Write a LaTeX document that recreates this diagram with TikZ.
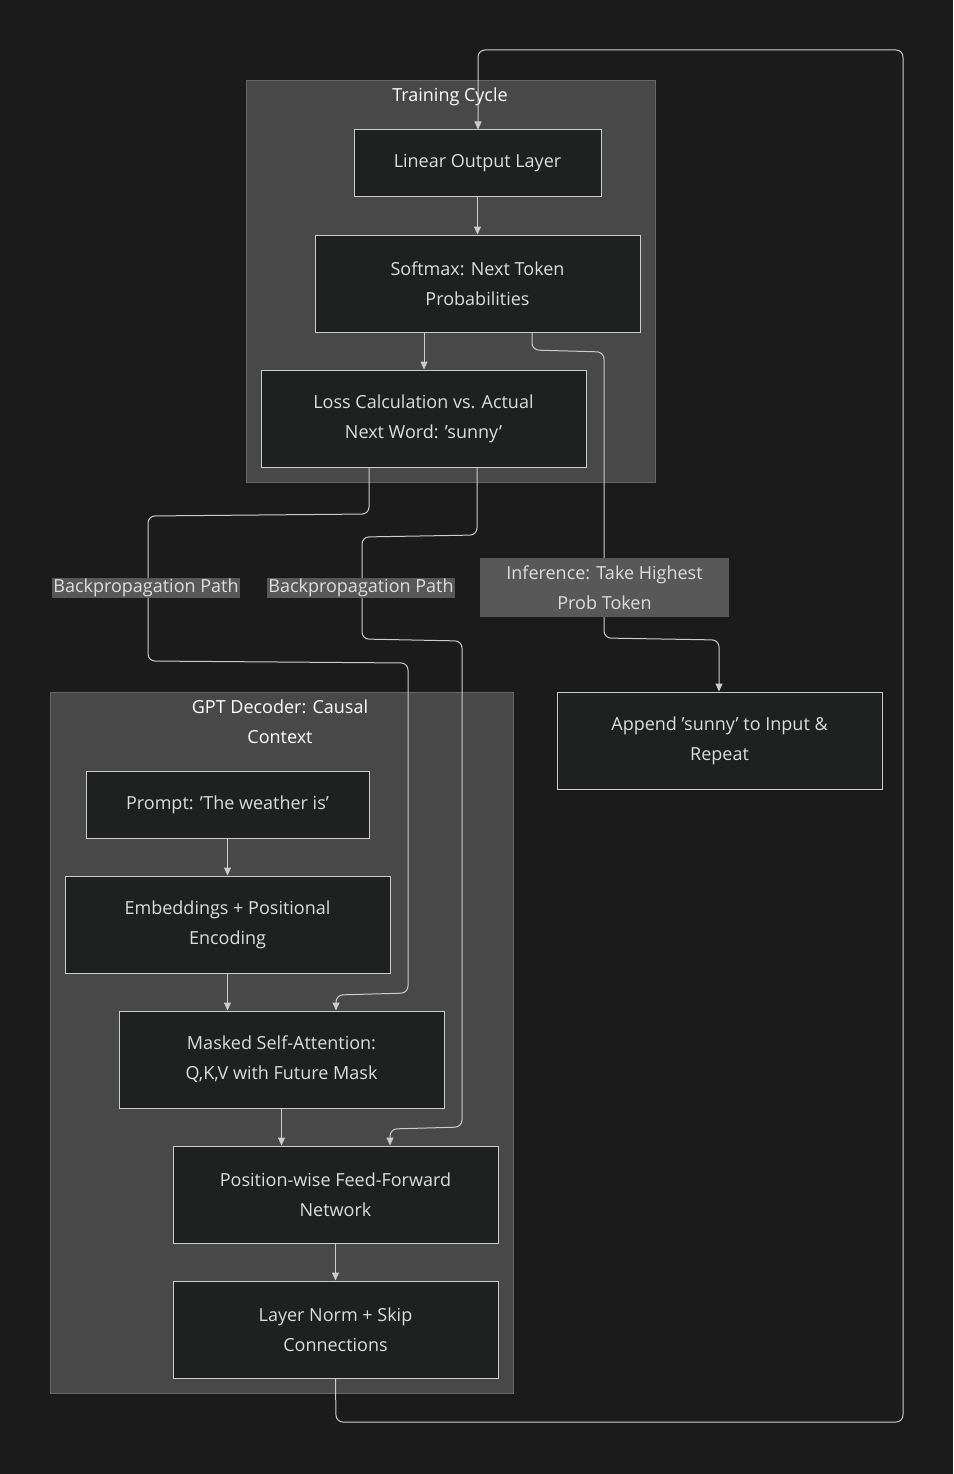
\documentclass[tikz,border=0pt]{standalone}
\usepackage{fontspec}
\setmainfont{Open Sans}
\usetikzlibrary{arrows.meta}
\definecolor{bg}{HTML}{1B1B1B}
\definecolor{clfill}{HTML}{474847}
\definecolor{clline}{HTML}{666666}
\definecolor{nfill}{HTML}{1F2020}
\definecolor{nline}{HTML}{CCCCCC}
\definecolor{txt}{HTML}{DDDDDD}
\definecolor{lbl}{HTML}{585858}
\begin{document}
\begin{tikzpicture}[x=1pt,y=-1pt,
  box/.style={draw=nline,fill=nfill,line width=1pt,minimum width=#1,text=txt,font=\fontsize{18}{30}\selectfont,align=center,inner sep=0pt},
  cl/.style={draw=clline,fill=clfill,line width=1pt},
  ttl/.style={text=white,font=\fontsize{18}{30}\selectfont,align=center},
  elbl/.style={fill=lbl,text=txt,font=\fontsize{18}{30}\selectfont,align=center,inner sep=1pt},
  edge/.style={draw=nline,line width=1pt,rounded corners=7pt,-{Triangle[length=8pt,width=7pt]}}]
\fill[bg] (0,0) rectangle (953,1474);
\useasboundingbox (0,0) rectangle (953,1474);
% clusters
\draw[cl] (246,81) rectangle (655,482);
\node[ttl] (t1) at (450,97) {Training Cycle};
\draw[cl] (50,692) rectangle (513,1393);
\node[ttl] (t2) at (280,722) {GPT Decoder: Causal\\Context};
% nodes
\node[box=247pt,minimum height=67pt] (lin) at (477.5,163.5) {Linear Output Layer};
\node[box=325pt,minimum height=97pt] (soft) at (477.5,283.5) {Softmax: Next Token\\Probabilities};
\node[box=325pt,minimum height=97pt] (loss) at (423.5,418.5) {Loss Calculation vs. Actual\\Next Word: 'sunny'};
\node[box=283pt,minimum height=67pt] (prompt) at (227.5,804.5) {Prompt: 'The weather is'};
\node[box=325pt,minimum height=97pt] (emb) at (227.5,924.5) {Embeddings + Positional\\Encoding};
\node[box=325pt,minimum height=97pt] (mask) at (281.5,1059.5) {Masked Self-Attention:\\Q,K,V with Future Mask};
\node[box=325pt,minimum height=97pt] (ffn) at (335.5,1194.5) {Position-wise Feed-Forward\\Network};
\node[box=325pt,minimum height=97pt] (ln) at (335.5,1329.5) {Layer Norm + Skip\\Connections};
\node[box=325pt,minimum height=97pt] (app) at (719.5,740.5) {Append 'sunny' to Input \&\\Repeat};
% edges
\draw[edge] (lin.south) -- (soft.north);
\draw[edge] (soft.south -| 424,0) -- (loss.north -| 424,0);
\draw[edge] (soft.south -| 532,0) -- (532,350) -- (604,352) -- (604,638) -- (719,640) -- (app.north -| 719,0);
\draw[edge] (loss.south -| 369,0) -- (369,514) -- (148,516) -- (148,661) -- (408,663) -- (408,993) -- (336,995) -- (mask.north -| 336,0);
\draw[edge] (loss.south -| 477,0) -- (477,535) -- (362,537) -- (362,639) -- (462,641) -- (462,1127) -- (390,1129) -- (ffn.north -| 390,0);
\draw[edge] (prompt.south) -- (emb.north);
\draw[edge] (emb.south) -- (emb.south |- mask.north);
\draw[edge] (mask.south) -- (mask.south |- ffn.north);
\draw[edge] (ffn.south) -- (ln.north);
\draw[edge] (ln.south) -- (336,1422) -- (903,1422) -- (903,50) -- (478,50) -- (lin.north -| 478,0);
% edge labels
\node[elbl] (l1) at (146,588) {Backpropagation Path};
\node[elbl] (l2) at (361,588) {Backpropagation Path};
\node[elbl,minimum width=249pt,minimum height=59pt,inner sep=0pt] (l3) at (604.5,587.5) {Inference: Take Highest\\Prob Token};
\end{tikzpicture}
\end{document}
